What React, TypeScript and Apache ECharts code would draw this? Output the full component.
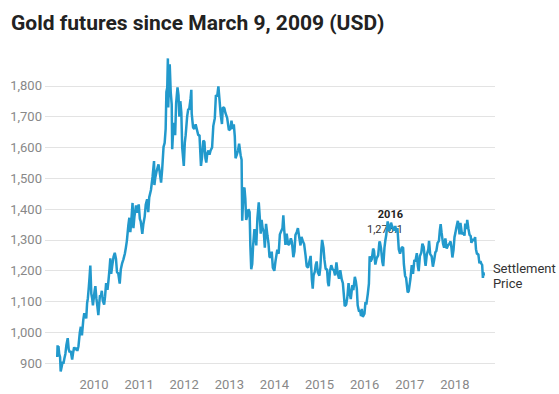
import React, { useEffect, useRef } from "react";
import * as echarts from "echarts";

const titleText = "Gold futures since March 9, 2009 (USD)";
const endLabelText = "Settlement\nPrice";
const noteYear = "2016";
const noteValue = "1,273.1";
const yearTicks = ["2010-01-01", "2011-01-01", "2012-01-01", "2013-01-01", "2014-01-01", "2015-01-01", "2016-01-01", "2017-01-01", "2018-01-01"];

const p2009: [string, number][] = [
  ["2009-03-09", 920], ["2009-03-12", 958], ["2009-03-16", 925], ["2009-03-19", 955], ["2009-03-25", 930],
  ["2009-04-01", 920], ["2009-04-06", 873], ["2009-04-15", 890], ["2009-04-22", 905], ["2009-04-28", 898],
  ["2009-05-06", 915], ["2009-05-14", 930], ["2009-05-22", 958], ["2009-06-02", 981], ["2009-06-10", 945],
  ["2009-06-18", 935], ["2009-06-26", 940], ["2009-07-08", 912], ["2009-07-16", 935], ["2009-07-24", 952],
  ["2009-07-31", 943], ["2009-08-10", 950], ["2009-08-19", 940], ["2009-08-28", 955], ["2009-09-08", 1000],
  ["2009-09-16", 1018], ["2009-09-25", 990], ["2009-10-06", 1040], ["2009-10-14", 1062], ["2009-10-23", 1055],
  ["2009-10-30", 1045], ["2009-11-06", 1095], ["2009-11-12", 1110], ["2009-11-20", 1148], ["2009-11-26", 1180],
  ["2009-12-02", 1217], ["2009-12-10", 1125], ["2009-12-17", 1110], ["2009-12-23", 1088],
];
const p2010: [string, number][] = [
  ["2010-01-06", 1135], ["2010-01-12", 1150], ["2010-01-20", 1110], ["2010-01-28", 1085], ["2010-02-05", 1056],
  ["2010-02-12", 1092], ["2010-02-18", 1120], ["2010-02-26", 1118], ["2010-03-05", 1135], ["2010-03-12", 1105],
  ["2010-03-24", 1090], ["2010-03-31", 1115], ["2010-04-09", 1160], ["2010-04-20", 1138], ["2010-04-28", 1168],
  ["2010-05-07", 1208], ["2010-05-13", 1240], ["2010-05-20", 1190], ["2010-05-28", 1215], ["2010-06-08", 1245],
  ["2010-06-18", 1258], ["2010-06-28", 1238], ["2010-07-06", 1195], ["2010-07-16", 1192], ["2010-07-28", 1158],
  ["2010-08-06", 1205], ["2010-08-17", 1225], ["2010-08-27", 1237], ["2010-09-08", 1256], ["2010-09-16", 1275],
  ["2010-09-24", 1297], ["2010-10-06", 1348], ["2010-10-14", 1372], ["2010-10-22", 1325], ["2010-10-29", 1357],
  ["2010-11-09", 1420], ["2010-11-16", 1338], ["2010-11-24", 1375], ["2010-12-07", 1412], ["2010-12-15", 1388],
  ["2010-12-29", 1415],
];
const p2011: [string, number][] = [
  ["2011-01-07", 1368], ["2011-01-14", 1360], ["2011-01-27", 1320], ["2011-02-04", 1350], ["2011-02-15", 1375],
  ["2011-02-24", 1415], ["2011-03-07", 1432], ["2011-03-16", 1390], ["2011-03-24", 1438], ["2011-04-07", 1462],
  ["2011-04-20", 1505], ["2011-05-02", 1556], ["2011-05-05", 1478], ["2011-05-12", 1502], ["2011-05-24", 1525],
  ["2011-06-07", 1545], ["2011-06-15", 1525], ["2011-06-28", 1486], ["2011-07-07", 1530], ["2011-07-18", 1602],
  ["2011-07-27", 1615], ["2011-08-04", 1660], ["2011-08-10", 1780], ["2011-08-17", 1795], ["2011-08-22", 1889],
  ["2011-08-25", 1730], ["2011-09-01", 1825], ["2011-09-06", 1870], ["2011-09-14", 1780], ["2011-09-22", 1740],
  ["2011-09-26", 1594], ["2011-10-04", 1655], ["2011-10-12", 1680], ["2011-10-20", 1640], ["2011-10-28", 1745],
  ["2011-11-08", 1795], ["2011-11-16", 1770], ["2011-11-23", 1700], ["2011-12-01", 1750], ["2011-12-09", 1713],
  ["2011-12-16", 1600], ["2011-12-29", 1540],
];
const p2012: [string, number][] = [
  ["2012-01-06", 1615], ["2012-01-13", 1640], ["2012-01-25", 1700], ["2012-02-03", 1725], ["2012-02-10", 1722],
  ["2012-02-22", 1760], ["2012-02-28", 1787], ["2012-03-02", 1710], ["2012-03-13", 1665], ["2012-03-23", 1660],
  ["2012-04-03", 1675], ["2012-04-12", 1660], ["2012-04-24", 1640], ["2012-05-04", 1640], ["2012-05-10", 1590],
  ["2012-05-16", 1540], ["2012-05-25", 1570], ["2012-06-04", 1622], ["2012-06-13", 1618], ["2012-06-21", 1565],
  ["2012-06-28", 1551], ["2012-07-06", 1580], ["2012-07-16", 1590], ["2012-07-24", 1577], ["2012-08-02", 1590],
  ["2012-08-14", 1600], ["2012-08-24", 1670], ["2012-09-05", 1695], ["2012-09-14", 1770], ["2012-09-24", 1765],
  ["2012-10-04", 1798], ["2012-10-12", 1760], ["2012-10-23", 1705], ["2012-11-02", 1676], ["2012-11-09", 1730],
  ["2012-11-21", 1728], ["2012-11-30", 1712], ["2012-12-07", 1704], ["2012-12-14", 1696], ["2012-12-28", 1656],
];
const p2013: [string, number][] = [
  ["2013-01-10", 1660], ["2013-01-18", 1687], ["2013-01-28", 1660], ["2013-02-06", 1675], ["2013-02-14", 1635],
  ["2013-02-20", 1565], ["2013-03-01", 1575], ["2013-03-12", 1590], ["2013-03-21", 1612], ["2013-04-02", 1575],
  ["2013-04-10", 1560], ["2013-04-15", 1362], ["2013-04-19", 1400], ["2013-04-26", 1465], ["2013-05-03", 1470],
  ["2013-05-10", 1435], ["2013-05-17", 1365], ["2013-05-28", 1380], ["2013-06-05", 1400], ["2013-06-14", 1390],
  ["2013-06-20", 1280], ["2013-06-27", 1205], ["2013-07-05", 1222], ["2013-07-12", 1280], ["2013-07-23", 1335],
  ["2013-07-31", 1310], ["2013-08-07", 1282], ["2013-08-16", 1370], ["2013-08-27", 1422], ["2013-09-05", 1368],
  ["2013-09-12", 1320], ["2013-09-19", 1365], ["2013-09-27", 1338], ["2013-10-07", 1325], ["2013-10-15", 1275],
  ["2013-10-25", 1352], ["2013-11-05", 1315], ["2013-11-14", 1288], ["2013-11-22", 1244], ["2013-12-04", 1245],
  ["2013-12-10", 1262], ["2013-12-19", 1210], ["2013-12-31", 1200],
];
const p2014: [string, number][] = [
  ["2014-01-09", 1230], ["2014-01-24", 1268], ["2014-02-04", 1255], ["2014-02-14", 1318], ["2014-02-26", 1330],
  ["2014-03-07", 1338], ["2014-03-14", 1380], ["2014-03-21", 1333], ["2014-03-31", 1284], ["2014-04-10", 1320],
  ["2014-04-22", 1285], ["2014-05-01", 1285], ["2014-05-14", 1305], ["2014-05-23", 1292], ["2014-06-03", 1244],
  ["2014-06-12", 1262], ["2014-06-20", 1316], ["2014-07-01", 1326], ["2014-07-10", 1338], ["2014-07-22", 1305],
  ["2014-07-31", 1282], ["2014-08-08", 1310], ["2014-08-19", 1296], ["2014-08-29", 1287], ["2014-09-10", 1250],
  ["2014-09-19", 1215], ["2014-09-30", 1210], ["2014-10-08", 1225], ["2014-10-21", 1248], ["2014-10-31", 1172],
  ["2014-11-07", 1142], ["2014-11-14", 1185], ["2014-11-24", 1197], ["2014-12-01", 1218], ["2014-12-09", 1230],
  ["2014-12-18", 1195], ["2014-12-31", 1184],
];
const p2015: [string, number][] = [
  ["2015-01-08", 1212], ["2015-01-15", 1265], ["2015-01-22", 1300], ["2015-02-02", 1275], ["2015-02-10", 1235],
  ["2015-02-20", 1205], ["2015-03-03", 1205], ["2015-03-10", 1162], ["2015-03-17", 1150], ["2015-03-27", 1200],
  ["2015-04-06", 1218], ["2015-04-17", 1204], ["2015-04-27", 1202], ["2015-05-07", 1185], ["2015-05-18", 1227],
  ["2015-05-29", 1190], ["2015-06-08", 1174], ["2015-06-18", 1202], ["2015-06-30", 1172], ["2015-07-09", 1160],
  ["2015-07-20", 1107], ["2015-07-24", 1085], ["2015-08-05", 1090], ["2015-08-14", 1113], ["2015-08-24", 1160],
  ["2015-09-03", 1125], ["2015-09-11", 1108], ["2015-09-24", 1153], ["2015-10-02", 1137], ["2015-10-14", 1180],
  ["2015-10-22", 1166], ["2015-10-30", 1142], ["2015-11-06", 1088], ["2015-11-17", 1068], ["2015-11-26", 1070],
  ["2015-12-03", 1053], ["2015-12-09", 1076], ["2015-12-17", 1050], ["2015-12-31", 1061],
];
const p2016: [string, number][] = [
  ["2016-01-08", 1098], ["2016-01-15", 1090], ["2016-01-27", 1125], ["2016-02-05", 1158], ["2016-02-11", 1247],
  ["2016-02-19", 1230], ["2016-02-29", 1238], ["2016-03-10", 1272], ["2016-03-17", 1265], ["2016-03-28", 1220],
  ["2016-04-07", 1240], ["2016-04-20", 1250], ["2016-04-29", 1290], ["2016-05-03", 1295], ["2016-05-13", 1273],
  ["2016-05-24", 1228], ["2016-05-31", 1215], ["2016-06-10", 1275], ["2016-06-17", 1298], ["2016-06-24", 1315],
  ["2016-07-06", 1360], ["2016-07-14", 1334], ["2016-07-21", 1330], ["2016-08-02", 1356], ["2016-08-10", 1345],
  ["2016-08-24", 1330], ["2016-09-06", 1345], ["2016-09-14", 1325], ["2016-09-23", 1338], ["2016-10-04", 1269],
  ["2016-10-14", 1255], ["2016-10-28", 1276], ["2016-11-08", 1275], ["2016-11-14", 1222], ["2016-11-24", 1183],
  ["2016-12-02", 1177], ["2016-12-15", 1130], ["2016-12-23", 1133],
];
const p2017: [string, number][] = [
  ["2017-01-06", 1173], ["2017-01-17", 1218], ["2017-01-27", 1190], ["2017-02-07", 1235], ["2017-02-15", 1230],
  ["2017-02-27", 1257], ["2017-03-07", 1216], ["2017-03-14", 1199], ["2017-03-24", 1248], ["2017-04-04", 1258],
  ["2017-04-13", 1288], ["2017-04-24", 1276], ["2017-05-05", 1228], ["2017-05-09", 1216], ["2017-05-19", 1253],
  ["2017-05-31", 1269], ["2017-06-06", 1297], ["2017-06-15", 1254], ["2017-06-27", 1247], ["2017-07-07", 1213],
  ["2017-07-17", 1234], ["2017-07-27", 1260], ["2017-08-04", 1264], ["2017-08-14", 1290], ["2017-08-25", 1297],
  ["2017-09-01", 1330], ["2017-09-08", 1351], ["2017-09-15", 1325], ["2017-09-27", 1288], ["2017-10-06", 1275],
  ["2017-10-16", 1305], ["2017-10-27", 1272], ["2017-11-06", 1282], ["2017-11-15", 1286], ["2017-11-27", 1295],
  ["2017-12-04", 1276], ["2017-12-12", 1243], ["2017-12-21", 1267], ["2017-12-29", 1309],
];
const p2018: [string, number][] = [
  ["2018-01-05", 1322], ["2018-01-12", 1338], ["2018-01-25", 1362], ["2018-01-31", 1345], ["2018-02-08", 1318],
  ["2018-02-15", 1355], ["2018-02-28", 1318], ["2018-03-09", 1324], ["2018-03-20", 1314], ["2018-03-26", 1353],
  ["2018-04-06", 1336], ["2018-04-11", 1365], ["2018-04-20", 1338], ["2018-04-30", 1316], ["2018-05-09", 1313],
  ["2018-05-15", 1290], ["2018-05-25", 1303], ["2018-06-05", 1297], ["2018-06-14", 1309], ["2018-06-21", 1270],
  ["2018-06-29", 1254], ["2018-07-10", 1254], ["2018-07-19", 1224], ["2018-07-27", 1231], ["2018-08-03", 1223],
  ["2018-08-10", 1219], ["2018-08-16", 1177], ["2018-08-21", 1195], ["2018-08-24", 1184],
];

const settlement = [...p2009, ...p2010, ...p2011, ...p2012, ...p2013, ...p2014, ...p2015, ...p2016, ...p2017, ...p2018];
const axisStart = "2008-11-30";
const axisEnd = "2018-11-22";

const ts = (d: string) => Date.UTC(+d.slice(0, 4), +d.slice(5, 7) - 1, +d.slice(8, 10));

export default function App() {
  const ref = useRef<HTMLDivElement>(null);
  useEffect(() => {
    if (!ref.current) return;
    const chart = echarts.init(ref.current, null, { renderer: "svg" });
    const font = "Roboto, 'Noto Sans', sans-serif";
    chart.setOption({
      animation: false,
      backgroundColor: "#ffffff",
      title: {
        text: titleText,
        left: 6,
        top: 7,
        textStyle: { fontFamily: font, fontSize: 21, fontWeight: "bold", color: "#222222" },
      },
      grid: { left: 45, right: 64, top: 55, bottom: -2, containLabel: false },
      xAxis: {
        type: "value",
        min: ts(axisStart),
        max: ts(axisEnd),
        axisLine: { show: false },
        axisTick: { show: false },
        splitLine: { show: false },
        axisLabel: {
          inside: true,
          margin: 3,
          color: "#888888",
          fontFamily: font,
          fontSize: 13,
          customValues: yearTicks.map(ts),
          formatter: (v: number) => String(new Date(v).getUTCFullYear()),
        },
      },
      yAxis: {
        type: "value",
        min: 800,
        max: 1900,
        interval: 100,
        axisLine: { show: false },
        axisTick: { show: false },
        splitLine: { show: true, showMaxLine: false, lineStyle: { color: "#e3e3e3", width: 1 } },
        axisLabel: {
          margin: 3,
          color: "#888888",
          fontFamily: font,
          fontSize: 13,
          formatter: (v: number) => (v === 800 || v === 1900 ? "" : v.toLocaleString("en-US")),
        },
      },
      series: [
        {
          type: "line",
          data: settlement.map(([d, v]) => [ts(d), v]),
          showSymbol: false,
          lineStyle: { color: "#2299cc", width: 2.5 },
          itemStyle: { color: "#2299cc" },
          endLabel: {
            show: true,
            formatter: endLabelText,
            distance: 9,
            color: "#333333",
            fontFamily: font,
            fontSize: 13,
            lineHeight: 15,
            align: "left",
          },
        },
      ],
      graphic: [
        {
          type: "text",
          right: 559 - 403,
          top: 209,
          style: { text: noteYear, fontFamily: font, fontSize: 11, fontWeight: "bold", fill: "#222222", align: "right" },
        },
        {
          type: "text",
          right: 559 - 403,
          top: 224,
          style: { text: noteValue, fontFamily: font, fontSize: 11, fill: "#333333", align: "right" },
        },
      ],
    });
    return () => chart.dispose();
  }, []);
  return <div ref={ref} style={{ position: "fixed", left: 0, top: 0, width: 559, height: 394 }} />;
}
